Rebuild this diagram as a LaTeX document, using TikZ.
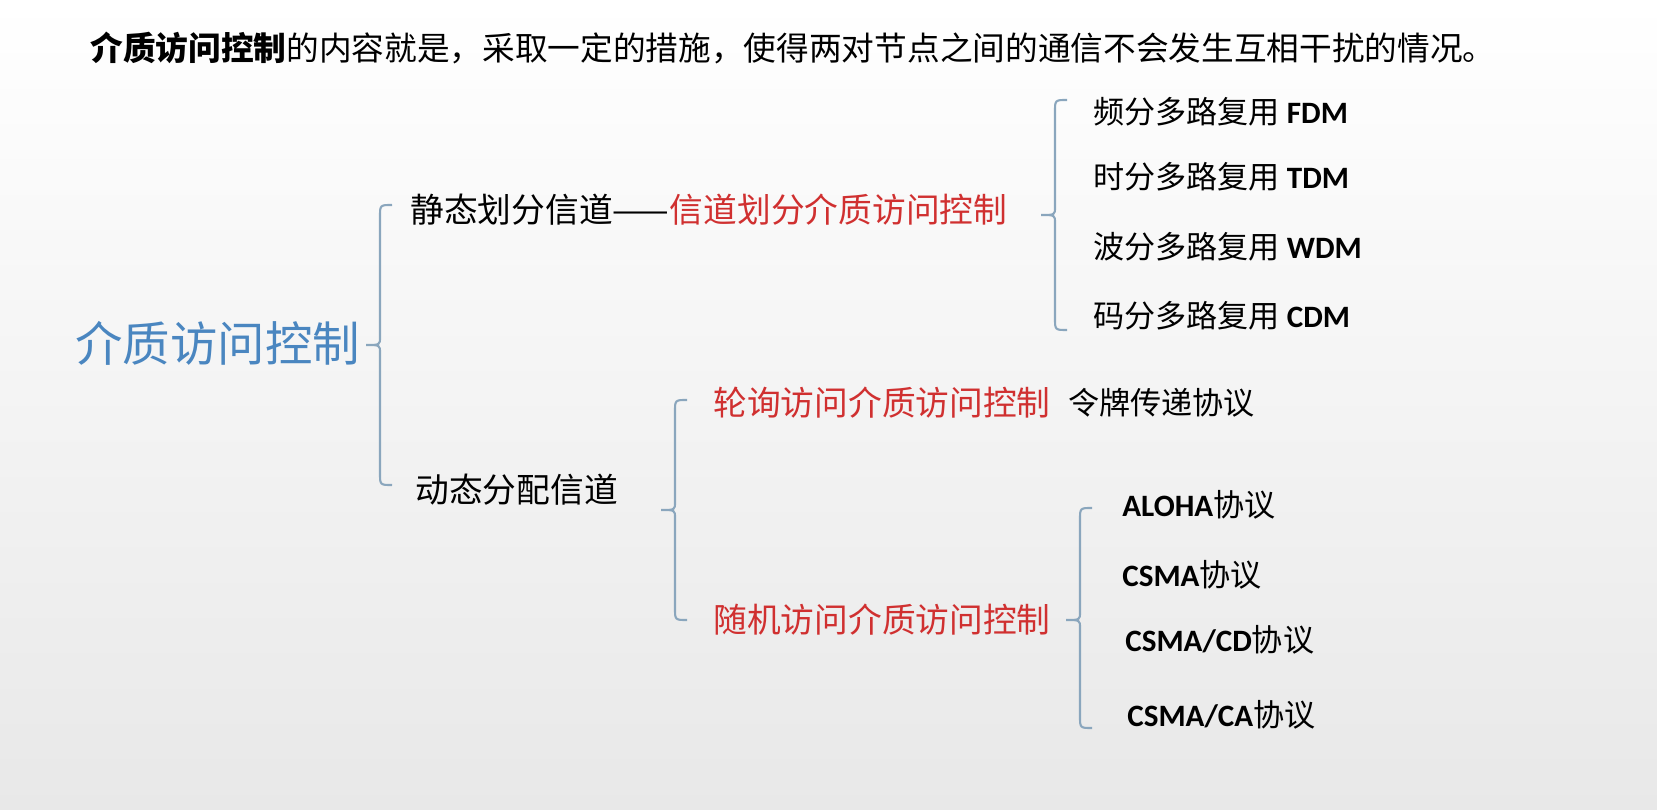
\documentclass[tikz,border=0pt]{standalone}
\usepackage{fontspec}
\setmainfont{Noto Sans CJK SC}
\newfontfamily\lat{Carlito}
\usetikzlibrary{positioning}
\definecolor{bracecol}{HTML}{8AA6BD}
\definecolor{rootcol}{HTML}{4A86C0}
\definecolor{redtxt}{HTML}{D03030}
\tikzset{
  txt/.style={anchor=west, inner sep=0pt, font=\fontsize{19.2}{23}\selectfont},
  item/.style={anchor=west, inner sep=0pt, font=\fontsize{17.7}{21}\selectfont},
  redbox/.style={txt, text=redtxt},
  brc/.style={draw=bracecol, line width=1.2pt},
}
% brace: x, top, bottom, tip y
\newcommand{\mybrace}[4]{%
  \draw[brc] (#1+12,#2) .. controls (#1,#2) .. (#1,#2+12) -- (#1,#4-8)
    .. controls (#1,#4) .. (#1-14,#4) .. controls (#1,#4) .. (#1,#4+8)
    -- (#1,#3-12) .. controls (#1,#3) .. (#1+12,#3);}
\begin{document}
\begin{tikzpicture}[x=0.02cm,y=-0.02cm]
  \shade[top color=white, bottom color=black!9] (0,0) rectangle (1657,810);
  \useasboundingbox (0,0) rectangle (1657,810);

  \node[txt, font=\fontsize{18.6}{22}\selectfont] (title) at (90,48) {\textbf{介质访问控制}的内容就是，采取一定的措施，使得两对节点之间的通信不会发生互相干扰的情况。};

  \node[anchor=west, inner sep=0pt, text=rootcol, font=\fontsize{27}{30}\selectfont] (root) at (75,343) {介质访问控制};
  \mybrace{380}{205}{485}{345}

  \node[txt] (static) at (410,210) {静态划分信道——};
  \node[redbox, right=0pt of static] (chan) {信道划分介质访问控制};
  \mybrace{1055}{100}{330}{215}
  \node[item] (fdm) at (1093,112) {频分多路复用 {\lat\bfseries FDM}};
  \node[item] (tdm) at (1093,177) {时分多路复用 {\lat\bfseries TDM}};
  \node[item] (wdm) at (1093,247) {波分多路复用 {\lat\bfseries WDM}};
  \node[item] (cdm) at (1093,316) {码分多路复用 {\lat\bfseries CDM}};

  \node[txt] (dynamic) at (415,490) {动态分配信道};
  \mybrace{675}{400}{620}{510}
  \node[redbox] (poll) at (713,403) {轮询访问介质访问控制};
  \node[item] (token) at (1068,403) {令牌传递协议};
  \node[redbox] (rand) at (713,620) {随机访问介质访问控制};
  \mybrace{1080}{508}{728}{620}
  \node[item] (aloha) at (1122,505) {{\lat\bfseries ALOHA}协议};
  \node[item] (csma) at (1122,575) {{\lat\bfseries CSMA}协议};
  \node[item] (cd) at (1125,640) {{\lat\bfseries CSMA/CD}协议};
  \node[item] (ca) at (1127,715) {{\lat\bfseries CSMA/CA}协议};
\end{tikzpicture}
\end{document}
